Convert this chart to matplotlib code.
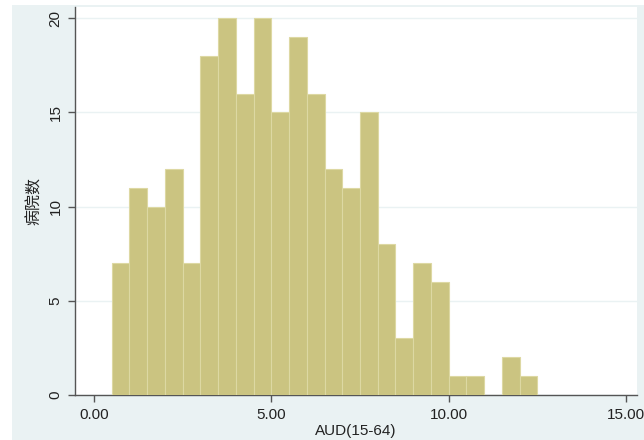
import matplotlib
matplotlib.use("Agg")
import matplotlib.pyplot as plt
from matplotlib.patches import Rectangle

plt.rcParams['font.family'] = ['Liberation Sans', 'Noto Sans CJK SC', 'DejaVu Sans']

bin_edges = [0.5, 1.0, 1.5, 2.0, 2.5, 3.0, 3.5, 4.0, 4.5, 5.0, 5.5, 6.0,
             6.5, 7.0, 7.5, 8.0, 8.5, 9.0, 9.5, 10.0, 10.5, 11.0, 11.5, 12.0, 12.5]
counts = [7, 11, 10, 12, 7, 18, 20, 16, 20, 15, 19, 16,
          12, 11, 15, 8, 3, 7, 6, 1, 1, 0, 2, 1]
x_ticks = [0, 5, 10, 15]
x_tick_labels = ["0.00", "5.00", "10.00", "15.00"]
y_ticks = [0, 5, 10, 15, 20]
x_label = "AUD(15-64)"
y_label = "病院数"

W, H = 644, 440
fig = plt.figure(figsize=(W / 100, H / 100), dpi=100, facecolor='white')
bg = Rectangle((12 / W, 0), 1 - 12 / W, 1 - 5 / H, transform=fig.transFigure,
               facecolor='#eaf2f3', edgecolor='none', zorder=-10)
fig.patches.append(bg)

ax = fig.add_axes([75 / W, 1 - 395 / H, (637 - 75) / W, (395 - 7) / H])
ax.set_facecolor('white')

widths = [bin_edges[i + 1] - bin_edges[i] for i in range(len(counts))]
ax.bar(bin_edges[:-1], counts, width=widths, align='edge',
       color='#cbc481', edgecolor='#ddd8a3', linewidth=0.8, zorder=3)

ax.set_xlim(-0.535, 15.31)
ax.set_ylim(0, 20.6)

ax.set_xticks(x_ticks)
ax.set_xticklabels(x_tick_labels)
ax.set_yticks(y_ticks)
ax.set_yticklabels([str(v) for v in y_ticks], rotation=90, va='center')

ax.yaxis.grid(True, color='#eaf2f3', linewidth=1.0, zorder=0)
ax.xaxis.grid(False)
ax.set_axisbelow(True)

for s in ['top', 'right']:
    ax.spines[s].set_visible(False)
for s in ['left', 'bottom']:
    ax.spines[s].set_color('#555555')
    ax.spines[s].set_linewidth(1.0)

ax.tick_params(axis='both', direction='out', length=5, width=1.0,
               color='#555555', labelsize=11, labelcolor='#222222', pad=4)

ax.set_xlabel(x_label, fontsize=11, color='#222222', labelpad=2)
ax.set_ylabel(y_label, fontsize=11.5, color='#222222', labelpad=4,
              family=['Noto Sans CJK SC', 'DejaVu Sans'])

fig.savefig('out.png', dpi=100, facecolor=fig.get_facecolor())
